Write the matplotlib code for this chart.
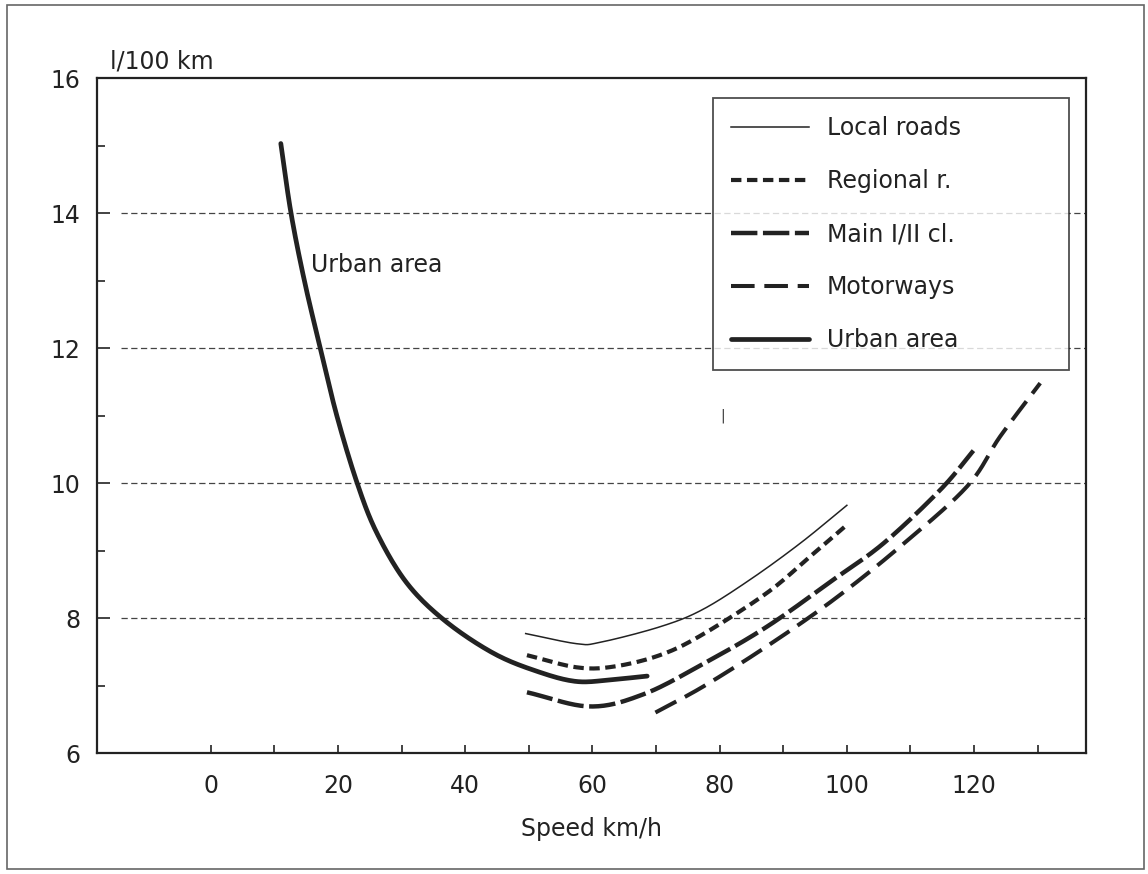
import numpy as np
import matplotlib
matplotlib.use("Agg")
import matplotlib.pyplot as plt
from matplotlib.patches import Rectangle

plt.rcParams['font.family'] = ['DejaVu Sans']
plt.rcParams['lines.scale_dashes'] = False

# data (speed km/h, consumption l/100 km)
urban_x = [11.0, 12.6, 14.7, 17.2, 19.8, 23.0, 26.1, 30.8, 36.8, 44.4, 51.3, 57.5, 63.3, 68.6]
urban_y = [15.03, 14.0, 13.0, 12.0, 11.0, 10.0, 9.26, 8.52, 7.96, 7.48, 7.21, 7.06, 7.09, 7.14]

local_x = [49.5, 57.5, 61.2, 70.6, 77.2, 84.8, 92.7, 100.0]
local_y = [7.77, 7.62, 7.64, 7.87, 8.12, 8.57, 9.11, 9.67]

regional_x = [49.7, 57.5, 63.3, 70.6, 77.2, 87.4, 94.2, 100.0]
regional_y = [7.45, 7.27, 7.28, 7.45, 7.75, 8.37, 8.91, 9.38]

main_x = [49.7, 59.6, 68.0, 77.2, 87.4, 97.9, 105.8, 114.7, 119.9]
main_y = [6.90, 6.69, 6.87, 7.31, 7.87, 8.57, 9.11, 9.90, 10.48]

motor_x = [69.9, 77.5, 87.4, 97.9, 108.4, 118.9, 124.1, 130.4]
motor_y = [6.60, 6.99, 7.58, 8.27, 9.06, 9.95, 10.69, 11.48]

grid_levels = [8, 10, 12, 14]
x_labels = [0, 20, 40, 60, 80, 100, 120]
y_labels = [6, 8, 10, 12, 14, 16]

ink = '#222222'


def smooth(xs, ys, n=20):
    # Catmull-Rom through the read points
    p = np.column_stack([xs, ys]).astype(float)
    p = np.vstack([2 * p[0] - p[1], p, 2 * p[-1] - p[-2]])
    out = []
    t = np.linspace(0, 1, n, endpoint=False)[:, None]
    for i in range(1, len(p) - 2):
        p0, p1, p2, p3 = p[i - 1], p[i], p[i + 1], p[i + 2]
        seg = 0.5 * ((2 * p1) + (-p0 + p2) * t
                     + (2 * p0 - 5 * p1 + 4 * p2 - p3) * t ** 2
                     + (-p0 + 3 * p1 - 3 * p2 + p3) * t ** 3)
        out.append(seg)
    out.append(p[-2][None, :])
    out = np.vstack(out)
    return out[:, 0], out[:, 1]


fig = plt.figure(figsize=(11.48, 8.74), dpi=100)
ax = fig.add_axes([0.0845, 0.1384, 0.8615, 0.7723])

for lv in grid_levels:
    ax.axhline(lv, xmin=0.024, xmax=1.0, color='#444444', lw=0.9,
               dashes=(4.5, 2.5), zorder=1)

l1, = ax.plot(*smooth(local_x, local_y), color=ink, lw=1.1, label='Local roads')
l2, = ax.plot(*smooth(regional_x, regional_y), color=ink, lw=3.0,
              dashes=(7.5, 4.0), label='Regional r.')
l3, = ax.plot(*smooth(main_x, main_y), color=ink, lw=3.2,
              dashes=(19, 4), label='Main I/II cl.')
l4, = ax.plot(*smooth(motor_x, motor_y), color=ink, lw=2.9,
              dashes=(17, 7), label='Motorways')
l5, = ax.plot(*smooth(urban_x, urban_y), color=ink, lw=3.4,
              solid_capstyle='round', label='Urban area')

ax.set_xlim(-17.9, 137.6)
ax.set_ylim(6, 16)

ax.set_xticks(x_labels)
ax.set_xticks([v for v in range(0, 131, 10) if v not in x_labels], minor=True)
ax.set_yticks(y_labels)
ax.set_yticks([v for v in range(7, 16, 2)], minor=True)
ax.tick_params(axis='both', which='both', direction='in', length=6, width=1.2,
               color=ink, labelsize=17, labelcolor=ink)
ax.tick_params(axis='x', which='both', pad=15)
ax.tick_params(axis='y', which='both', pad=12)
ax.tick_params(axis='y', which='major', length=9)
for s in ax.spines.values():
    s.set_linewidth(1.6)
    s.set_color(ink)

ax.set_xlabel('Speed km/h', fontsize=17, color=ink, labelpad=14)
ax.text(0.013, 1.006, 'l/100 km', transform=ax.transAxes, fontsize=17,
        color=ink, ha='left', va='bottom')
ax.text(15.7, 13.23, 'Urban area', fontsize=17, color=ink, ha='left', va='center')
ax.text(80.5, 11.0, '|', fontsize=10, color='#333333', ha='center', va='center')

leg = ax.legend(handles=[l1, l2, l3, l4, l5], loc='upper left',
                bbox_to_anchor=(0.6229, 0.0, 0.36, 0.970), mode='expand',
                fontsize=17, frameon=True,
                fancybox=False, edgecolor=ink, handlelength=3.3,
                handletextpad=0.76, labelspacing=1.23, borderpad=0.75,
                borderaxespad=0.0, labelcolor=ink)
leg.get_frame().set_linewidth(1.3)

fig.patches.append(Rectangle((7 / 1148, 5 / 874), 1137 / 1148, 864 / 874,
                             transform=fig.transFigure, fill=False,
                             edgecolor='#666666', lw=1.2))

fig.savefig('out.png', dpi=100)
